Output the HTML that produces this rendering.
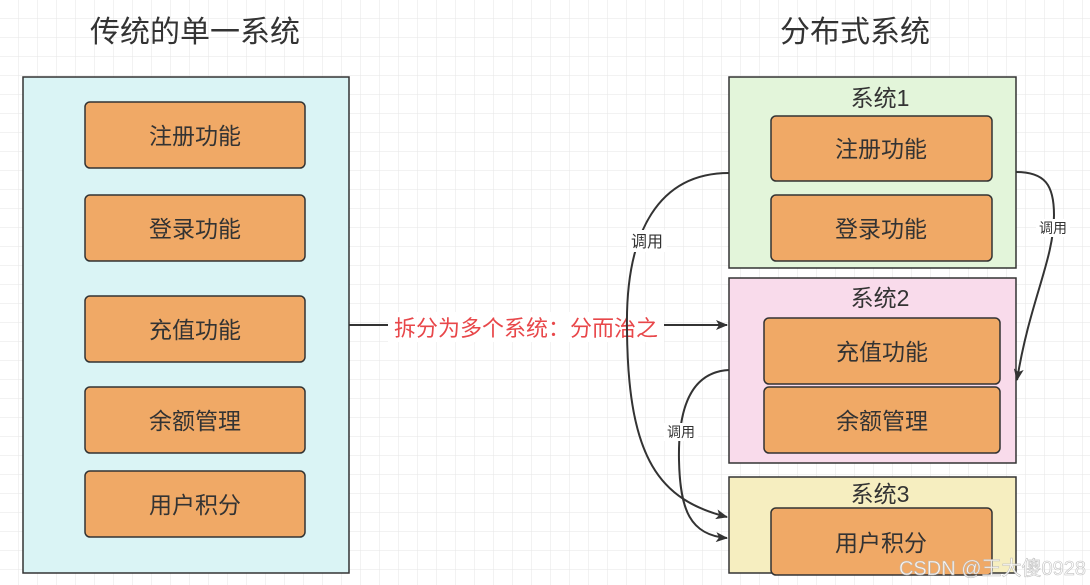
<!DOCTYPE html><html><head><meta charset="utf-8"><style>body{margin:0}svg{display:block}text{font-family:"Liberation Sans","Noto Sans CJK SC",sans-serif;fill:#333}</style></head><body>
<svg width="1090" height="585" xmlns="http://www.w3.org/2000/svg">
<defs><pattern id="g" width="19" height="19" patternUnits="userSpaceOnUse"><path d="M19 0V19H0" fill="none" stroke="#e6e6e6" stroke-width="1"/></pattern>
<marker id="a" markerWidth="12" markerHeight="10" refX="11" refY="5" orient="auto" markerUnits="userSpaceOnUse"><path d="M0 0L12 5L0 10L3 5Z" fill="#333"/></marker></defs>
<rect width="1090" height="585" fill="#fff"/><rect width="1090" height="585" fill="url(#g)"/>
<text x="195" y="42" font-size="30" text-anchor="middle">传统的单一系统</text>
<text x="855" y="42" font-size="30" text-anchor="middle">分布式系统</text>
<rect x="388" y="312" width="276" height="30" fill="#fff"/>
<text x="526" y="336" font-size="22" text-anchor="middle" style="fill:#e8474a">拆分为多个系统：分而治之</text>
<g stroke="#333" stroke-width="1.5">
<rect x="23" y="77" width="326" height="496" fill="#daf4f5"/>
<rect x="729" y="77" width="287" height="191" fill="#e3f5da"/>
<rect x="729" y="278" width="287" height="185" fill="#f9dbeb"/>
<rect x="729" y="477" width="287" height="96" fill="#f6eec0"/>
<g fill="#f0a966">
<rect x="85" y="102" width="220" height="66" rx="5"/>
<rect x="85" y="195" width="220" height="66" rx="5"/>
<rect x="85" y="296" width="220" height="66" rx="5"/>
<rect x="85" y="387" width="220" height="66" rx="5"/>
<rect x="85" y="471" width="220" height="66" rx="5"/>
<rect x="771" y="116" width="221" height="65" rx="5"/>
<rect x="771" y="195" width="221" height="66" rx="5"/>
<rect x="764" y="318" width="236" height="66" rx="5"/>
<rect x="764" y="387" width="236" height="66" rx="5"/>
<rect x="771" y="508" width="221" height="67" rx="5"/>
</g>
<g fill="none" stroke-width="2">
<path d="M349 325H388M664 325H727" marker-end="url(#a)"/>
<path d="M729 173C660 173 625 230 627 330C628 460 660 500 727 517" marker-end="url(#a)"/>
<path d="M729 370C690 372 678 410 679 460C680 510 690 535 727 538" marker-end="url(#a)"/>
<path d="M1016 172C1045 172 1054 185 1054 215C1054 260 1030 300 1017 380" marker-end="url(#a)"/>
</g></g>
<rect x="627" y="230" width="40" height="22" fill="#fff"/>
<text x="647" y="247" font-size="16" text-anchor="middle">调用</text>
<rect x="664" y="423" width="34" height="18" fill="#fff"/>
<text x="681" y="437" font-size="14" text-anchor="middle">调用</text>
<rect x="1036" y="219" width="34" height="18" fill="#fff"/>
<text x="1053" y="233" font-size="14" text-anchor="middle">调用</text>
<g font-size="23" text-anchor="middle">
<text x="880" y="106">系统1</text><text x="880" y="306">系统2</text><text x="880" y="502">系统3</text>
<text x="195" y="144">注册功能</text><text x="195" y="237">登录功能</text><text x="195" y="338">充值功能</text><text x="195" y="429">余额管理</text><text x="195" y="513">用户积分</text>
<text x="881" y="157">注册功能</text><text x="881" y="237">登录功能</text><text x="882" y="360">充值功能</text><text x="882" y="429">余额管理</text><text x="881" y="551">用户积分</text>
</g>
<text x="1086" y="575" font-size="20" text-anchor="end" style="fill:#fff;stroke:#bbb;stroke-width:0.6;opacity:0.9">CSDN @王大傻0928</text>
</svg></body></html>
